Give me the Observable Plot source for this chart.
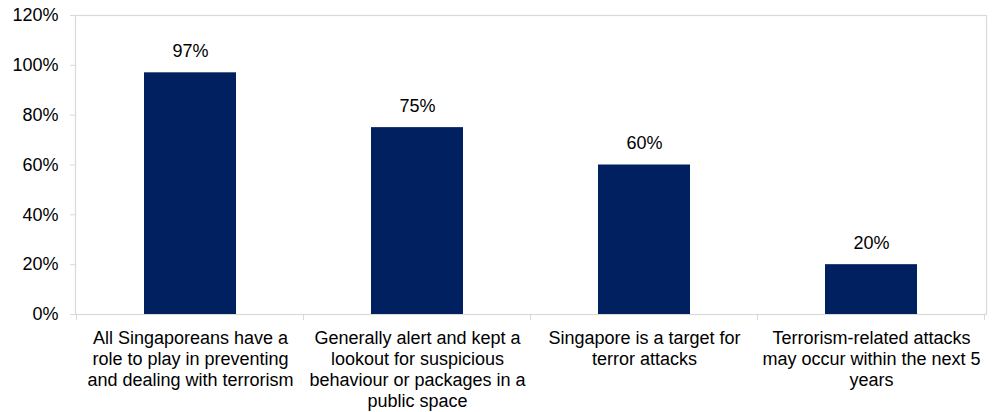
<!DOCTYPE html>
<html>
<head>
<meta charset="utf-8">
<script src="https://cdn.jsdelivr.net/npm/d3@7"></script>
<script src="https://cdn.jsdelivr.net/npm/@observablehq/plot@0.6"></script>
<style>
  html, body { margin: 0; padding: 0; background: #fff; }
  #chart svg { display: block; }
</style>
</head>
<body>
<div id="chart"></div>
<script>
const categories = [
  "All Singaporeans have a role to play in preventing and dealing with terrorism",
  "Generally alert and kept a lookout for suspicious behaviour or packages in a public space",
  "Singapore is a target for terror attacks",
  "Terrorism-related attacks may occur within the next 5 years"
];
const categoryLines = [
  "All Singaporeans have a\nrole to play in preventing\nand dealing with terrorism",
  "Generally alert and kept a\nlookout for suspicious\nbehaviour or packages in a\npublic space",
  "Singapore is a target for\nterror attacks",
  "Terrorism-related attacks\nmay occur within the next 5\nyears"
];
const values = [97, 75, 60, 20];
const yTicks = [0, 20, 40, 60, 80, 100, 120];

const data = categories.map((c, i) => ({category: c, label: categoryLines[i], value: values[i]}));

const boundaryTicks = (index, scales) => {
  const x = scales.x, y = scales.y;
  const step = x.step(), bw = x.bandwidth();
  const g = d3.create("svg:g");
  const y0 = y(0);
  const xs = categories.map(c => x(c) + bw / 2 - step / 2);
  xs.push(x(categories[categories.length - 1]) + bw / 2 + step / 2);
  for (const px of xs) {
    g.append("line").attr("x1", px).attr("x2", px).attr("y1", y0).attr("y2", y0 + 6)
      .attr("stroke", "#d9d9d9").attr("stroke-width", 1);
  }
  return g.node();
};

const chart = Plot.plot({
  width: 1000,
  height: 412,
  marginLeft: 75,
  marginRight: 14,
  marginTop: 15,
  marginBottom: 98,
  style: {fontFamily: "'Liberation Sans', Arial, sans-serif", fontSize: "18px", color: "#000", background: "#fff"},
  x: {domain: categories, paddingInner: 0.596, paddingOuter: 0.298, axis: null},
  y: {domain: [0, 120], axis: null},
  marks: [
    Plot.frame({stroke: "#d9d9d9", strokeWidth: 1.2}),
    Plot.barY(data, {x: "category", y: "value", fill: "#002060"}),
    Plot.axisY({ticks: yTicks, tickFormat: d => d + "%", tickSize: 5, tickPadding: 12, stroke: "#d9d9d9", fontSize: 18, fill: "#000", label: null}),
    Plot.text(data, {x: "category", y: 0, text: "label", lineAnchor: "top", dy: 14, lineHeight: 1.18, fontSize: 18, fill: "#000"}),
    Plot.text(data, {x: "category", y: "value", text: d => d.value + "%", lineAnchor: "bottom", dy: -16, fontSize: 18, fill: "#000"}),
    boundaryTicks
  ]
});
document.getElementById("chart").append(chart);
</script>
</body>
</html>
